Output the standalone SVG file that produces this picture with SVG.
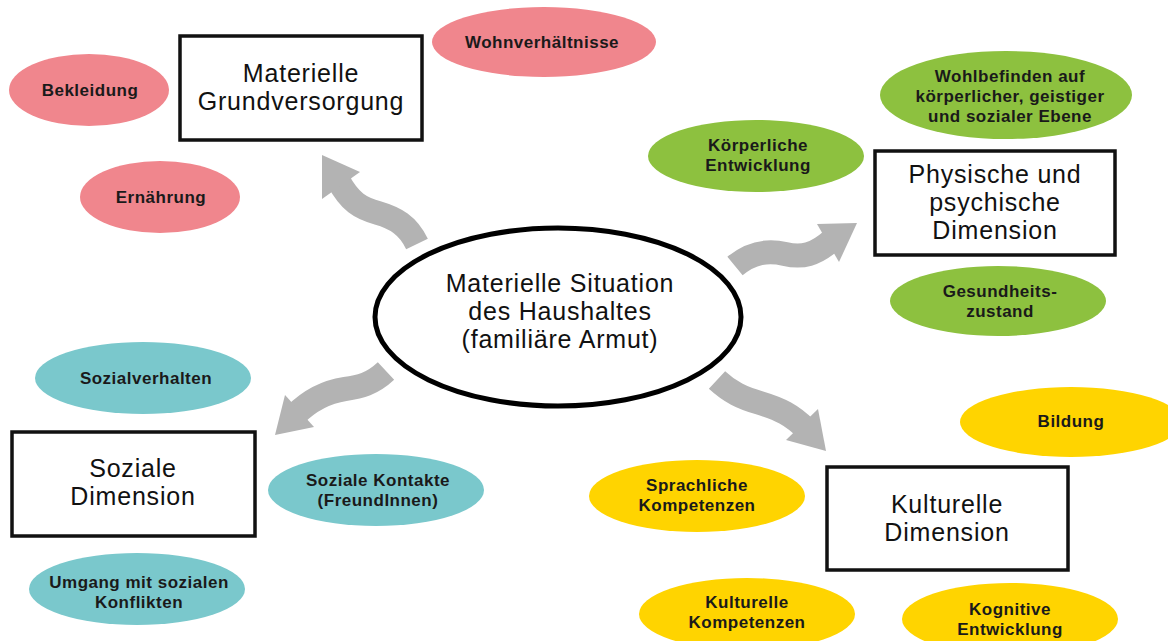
<svg xmlns="http://www.w3.org/2000/svg" width="1168" height="641" viewBox="0 0 1168 641">
<style>
.pink{fill:#F0868D}
.green{fill:#8DC13F}
.teal{fill:#7AC8CC}
.yellow{fill:#FFD400}
.box{fill:#fff;stroke:#111;stroke-width:3.5}
.center{fill:#fff;stroke:#000;stroke-width:5}
.s{font-family:"Liberation Sans",Arial,sans-serif;font-size:17px;font-weight:bold;letter-spacing:0.5px;fill:#1a1a1a;text-anchor:middle}
.b{font-family:"Liberation Sans",Arial,sans-serif;font-size:25px;letter-spacing:0.8px;fill:#111;text-anchor:middle}
.body{fill:none;stroke:#B3B3B3;stroke-width:24;stroke-linecap:butt}
.head{fill:#B3B3B3}
</style>
<rect width="1168" height="641" fill="#fff"/>
<g id="connectors">
<path class="body" d="M417,244 C408,225 395,218 378,213 C360,208 350,202 338,180"/>
<polygon class="head" points="322,155 322,199 360,172"/>
<path class="body" d="M735,266 C752,252 768,250 785,254 C802,258 815,255 832,240"/>
<polygon class="head" points="857,223 817,224 839,262"/>
<path class="body" d="M386,371 C372,384 360,387 345,389 C325,392 310,400 295,415"/>
<polygon class="head" points="275,435 285,395 314,427"/>
<path class="body" d="M717,380 C730,392 742,398 760,403 C780,409 792,415 806,429"/>
<polygon class="head" points="826,451 818,409 786,440"/>
</g>
<g id="center">
<ellipse class="center" cx="558" cy="317" rx="183" ry="89"/>
<text class="b" x="560" y="292">Materielle Situation</text>
<text class="b" x="560" y="320">des Haushaltes</text>
<text class="b" x="560" y="348">(familiäre Armut)</text>
</g>
<g id="materielle-grundversorgung">
<rect class="box" x="180" y="36" width="242" height="104"/>
<text class="b" x="301" y="82">Materielle</text>
<text class="b" x="301" y="110">Grundversorgung</text>
</g>
<g id="wohnverhaeltnisse">
<ellipse class="pink" cx="544" cy="42" rx="112" ry="35"/>
<text class="s" x="542" y="48">Wohnverhältnisse</text>
</g>
<g id="bekleidung">
<ellipse class="pink" cx="89" cy="90" rx="80" ry="36"/>
<text class="s" x="90" y="96">Bekleidung</text>
</g>
<g id="ernaehrung">
<ellipse class="pink" cx="160" cy="197" rx="80" ry="36"/>
<text class="s" x="161" y="203">Ernährung</text>
</g>
<g id="physische-dimension">
<rect class="box" x="875" y="151" width="240" height="104"/>
<text class="b" x="995" y="183">Physische und</text>
<text class="b" x="995" y="211">psychische</text>
<text class="b" x="995" y="239">Dimension</text>
</g>
<g id="wohlbefinden">
<ellipse class="green" cx="1006" cy="95" rx="126" ry="44"/>
<text class="s" x="1010" y="82">Wohlbefinden auf</text>
<text class="s" x="1010" y="102">körperlicher, geistiger</text>
<text class="s" x="1010" y="122">und sozialer Ebene</text>
</g>
<g id="koerperliche-entwicklung">
<ellipse class="green" cx="756" cy="156" rx="108" ry="36"/>
<text class="s" x="758" y="151">Körperliche</text>
<text class="s" x="758" y="171">Entwicklung</text>
</g>
<g id="gesundheitszustand">
<ellipse class="green" cx="998" cy="301" rx="108" ry="35"/>
<text class="s" x="1000" y="297">Gesundheits-</text>
<text class="s" x="1000" y="317">zustand</text>
</g>
<g id="soziale-dimension">
<rect class="box" x="12" y="432" width="243" height="104"/>
<text class="b" x="133" y="477">Soziale</text>
<text class="b" x="133" y="505">Dimension</text>
</g>
<g id="sozialverhalten">
<ellipse class="teal" cx="143" cy="378" rx="108" ry="36"/>
<text class="s" x="146" y="384">Sozialverhalten</text>
</g>
<g id="soziale-kontakte">
<ellipse class="teal" cx="376" cy="490" rx="108" ry="36"/>
<text class="s" x="378" y="486">Soziale Kontakte</text>
<text class="s" x="378" y="506">(FreundInnen)</text>
</g>
<g id="umgang">
<ellipse class="teal" cx="137" cy="589" rx="108" ry="36"/>
<text class="s" x="139" y="588">Umgang mit sozialen</text>
<text class="s" x="139" y="608">Konflikten</text>
</g>
<g id="kulturelle-dimension">
<rect class="box" x="827" y="467" width="241" height="103"/>
<text class="b" x="947" y="513">Kulturelle</text>
<text class="b" x="947" y="541">Dimension</text>
</g>
<g id="bildung">
<ellipse class="yellow" cx="1071" cy="422" rx="111" ry="35"/>
<text class="s" x="1071" y="427">Bildung</text>
</g>
<g id="sprachliche-kompetenzen">
<ellipse class="yellow" cx="697" cy="496" rx="108" ry="36"/>
<text class="s" x="697" y="491">Sprachliche</text>
<text class="s" x="697" y="511">Kompetenzen</text>
</g>
<g id="kulturelle-kompetenzen">
<ellipse class="yellow" cx="747" cy="614" rx="108" ry="36"/>
<text class="s" x="747" y="608">Kulturelle</text>
<text class="s" x="747" y="628">Kompetenzen</text>
</g>
<g id="kognitive-entwicklung">
<ellipse class="yellow" cx="1010" cy="619" rx="108" ry="36"/>
<text class="s" x="1010" y="615">Kognitive</text>
<text class="s" x="1010" y="635">Entwicklung</text>
</g>
</svg>
